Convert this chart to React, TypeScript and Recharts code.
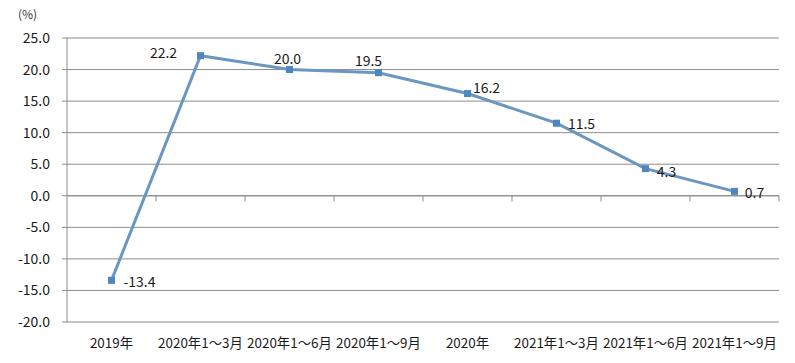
import React from "react";
import { LineChart, Line, XAxis, YAxis, CartesianGrid, ReferenceLine, LabelList } from "recharts";

const categories = ["2019年", "2020年1～3月", "2020年1～6月", "2020年1～9月", "2020年", "2021年1～3月", "2021年1～6月", "2021年1～9月"];
const values = [-13.4, 22.2, 20.0, 19.5, 16.2, 11.5, 4.3, 0.7];
const yTicks = [-20, -15, -10, -5, 0, 5, 10, 15, 20, 25];
const xTicks = [0.5, 1.5, 2.5, 3.5, 4.5, 5.5, 6.5, 7.5];
const boundaryTicks = [1, 2, 3, 4, 5, 6, 7, 8];

// label placement (style only)
const labelDx = [28, -37, -2, -10, 19, 25, 21, 20];
const labelDy = [1, -4, -12, -13, -7, 0, 2, 1];

const data = values.map((v, i) => ({ x: i + 0.5, v, name: categories[i] }));

const FONT = "'Noto Sans CJK SC', 'Noto Sans', sans-serif";
const GRID = "#8c8c8c";

const renderLabel = (props: any) => {
  const { x, y, index, value } = props;
  return (
    <text
      x={x + labelDx[index]}
      y={y + labelDy[index]}
      textAnchor="middle"
      dominantBaseline="central"
      fontSize={14}
      fontFamily={FONT}
      fill="#1a1a1a"
    >
      {Number(value).toFixed(1)}
    </text>
  );
};

const SquareDot = (props: any) => {
  const { cx, cy } = props;
  if (cx == null || cy == null) return null;
  return <rect x={cx - 3.5} y={cy - 3.5} width={7} height={7} fill="#4f86bd" />;
};

export default function App() {
  return (
    <div style={{ position: "absolute", left: 0, top: 0, width: 795, height: 363, background: "#fff" }}>
      <div
        style={{
          position: "absolute",
          left: 18,
          top: 5,
          fontFamily: FONT,
          fontSize: 12,
          color: "#333",
        }}
      >
        (%)
      </div>
      <LineChart width={795} height={363} data={data} margin={{ top: 38, right: 16, bottom: 0, left: 0 }}>
        <CartesianGrid horizontal vertical={false} stroke={GRID} strokeWidth={1} />
        <XAxis
          dataKey="x"
          type="number"
          domain={[0, 8]}
          ticks={xTicks}
          tickFormatter={(t: number) => categories[Math.floor(t)]}
          axisLine={false}
          tickLine={false}
          height={41}
          tickMargin={10}
          interval={0}
          tick={{ fontSize: 13.4, fontFamily: FONT, fill: "#1a1a1a" }}
        />
        <YAxis
          type="number"
          domain={[-20, 25]}
          ticks={yTicks}
          width={67}
          tickFormatter={(t: number) => t.toFixed(1)}
          axisLine={{ stroke: GRID }}
          tickLine={{ stroke: GRID }}
          tickSize={5}
          tickMargin={12}
          interval={0}
          tick={{ fontSize: 14, fontFamily: FONT, fill: "#1a1a1a" }}
        />
        <ReferenceLine y={0} stroke={GRID} strokeWidth={1} />
        {boundaryTicks.map((b) => (
          <ReferenceLine
            key={b}
            segment={[
              { x: b, y: 0 },
              { x: b, y: -0.9 },
            ]}
            stroke={GRID}
            strokeWidth={1}
          />
        ))}
        <Line
          dataKey="v"
          stroke="#6a96c2"
          strokeWidth={3}
          dot={<SquareDot />}
          activeDot={false}
          isAnimationActive={false}
        >
          <LabelList dataKey="v" content={renderLabel} />
        </Line>
      </LineChart>
    </div>
  );
}
